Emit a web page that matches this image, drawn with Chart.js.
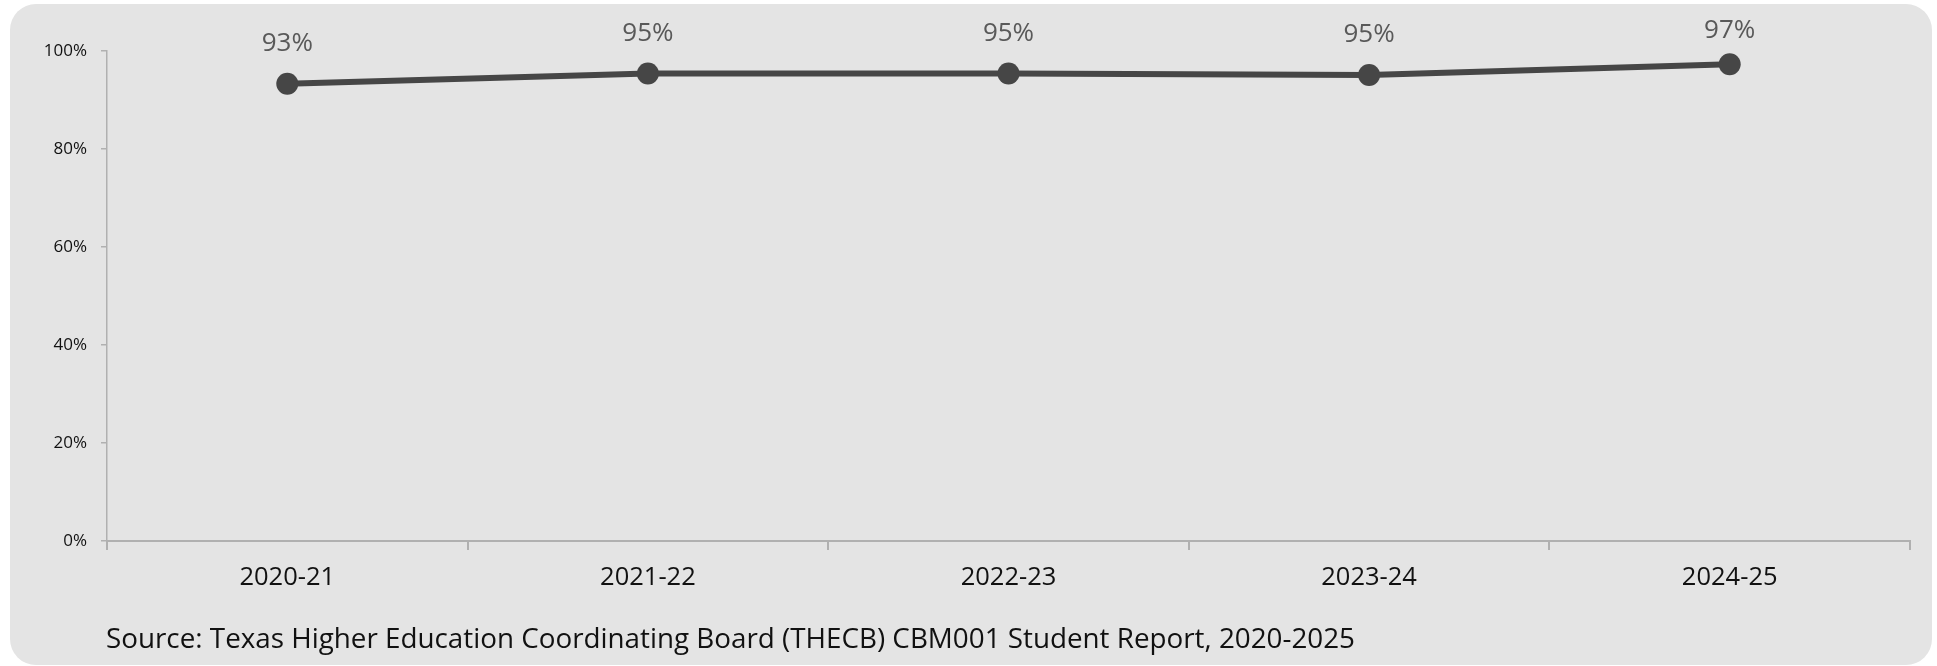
<!DOCTYPE html>
<html lang="en">
<head>
    <meta charset="UTF-8">
    <title>Student Report Trend</title>
    <script src="https://cdn.jsdelivr.net/npm/chart.js"></script>
    <style>
        * {
            margin: 0;
            padding: 0;
            box-sizing: border-box;
        }
        body {
            background: white;
            width: 1937px;
            height: 666px;
            overflow: hidden;
            position: relative;
            font-family: 'Open Sans', sans-serif;
        }
        .panel {
            position: absolute;
            left: 10px;
            top: 4px;
            width: 1922px;
            height: 661px;
            background: #e4e4e4;
            border-radius: 26px;
        }
        .chart-box {
            position: absolute;
            left: 0;
            top: 0;
            width: 1937px;
            height: 666px;
        }
        .source {
            position: absolute;
            left: 106px;
            top: 617px;
            font-size: 27.8px;
            line-height: 40px;
            color: #111;
            white-space: nowrap;
        }
    </style>
</head>
<body>

<div class="panel"></div>
<div class="chart-box">
    <canvas id="lineChart" width="1937" height="666"></canvas>
</div>
<div class="source">Source: Texas Higher Education Coordinating Board (THECB) CBM001 Student Report, 2020-2025</div>

<script>
    // data
    var years = ["2020-21", "2021-22", "2022-23", "2023-24", "2024-25"];
    var rates = [93.3, 95.4, 95.4, 95.1, 97.3];
    var yTicks = [0, 20, 40, 60, 80, 100];

    var lineColor = "#464646";
    var axisColor = "#b0b0b0";

    // labels above each point, kept inside the panel top
    var pointLabels = {
        id: "pointLabels",
        afterDatasetsDraw: function(chart) {
            var ctx = chart.ctx;
            var meta = chart.getDatasetMeta(0);
            ctx.save();
            ctx.font = "26px 'Open Sans'";
            ctx.fillStyle = "#595959";
            ctx.textAlign = "center";
            ctx.textBaseline = "middle";
            meta.data.forEach(function(pt, i) {
                var y = Math.max(pt.y - 40, 31);
                ctx.fillText(Math.round(rates[i]) + "%", pt.x, y);
            });
            ctx.restore();
        }
    };

    var ctx = document.getElementById("lineChart").getContext("2d");
    var lineChart = new Chart(ctx, {
        type: "line",
        data: {
            labels: years,
            datasets: [{
                data: rates,
                borderColor: lineColor,
                backgroundColor: lineColor,
                borderWidth: 6,
                pointRadius: 11,
                pointHoverRadius: 11,
                pointBackgroundColor: lineColor,
                pointBorderWidth: 0,
                tension: 0
            }]
        },
        options: {
            responsive: false,
            animation: false,
            layout: {
                padding: { left: 0, right: 27, top: 51, bottom: 0 }
            },
            plugins: {
                legend: { display: false },
                tooltip: { enabled: false }
            },
            scales: {
                x: {
                    offset: true,
                    afterFit: function(scale) { scale.height = 125; },
                    grid: {
                        offset: true,
                        drawOnChartArea: false,
                        drawTicks: true,
                        tickLength: 9,
                        color: axisColor,
                        lineWidth: 2
                    },
                    border: { display: true, color: axisColor, width: 2 },
                    ticks: {
                        padding: 12,
                        color: "#111",
                        font: { family: "'Open Sans'", size: 25.5 }
                    }
                },
                y: {
                    min: 0,
                    max: 100,
                    afterFit: function(scale) { scale.width = 107; },
                    afterBuildTicks: function(scale) {
                        scale.ticks = yTicks.map(function(v) { return { value: v }; });
                    },
                    grid: {
                        drawOnChartArea: false,
                        drawTicks: true,
                        tickLength: 6,
                        color: axisColor,
                        lineWidth: 1.5
                    },
                    border: { display: true, color: axisColor, width: 1.5 },
                    ticks: {
                        padding: 14,
                        color: "#111",
                        font: { family: "'Open Sans'", size: 17 },
                        callback: function(value) { return value + "%"; }
                    }
                }
            }
        },
        plugins: [pointLabels]
    });
</script>

</body>
</html>
